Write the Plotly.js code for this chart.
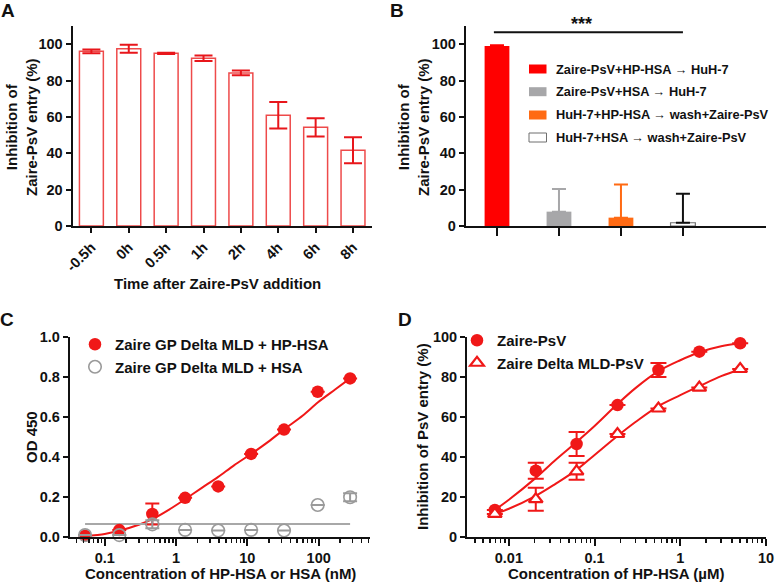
<!DOCTYPE html>
<html>
<head>
<meta charset="utf-8">
<script src="https://cdn.plot.ly/plotly-3.0.1.min.js"></script>
<style>html,body{margin:0;padding:0;background:#fff;}#chart{width:775px;height:582px;}</style>
</head>
<body>
<div id="chart"></div>
<script>
// ---------- Panel A ----------
const aCats = ['-0.5h', '0h', '0.5h', '1h', '2h', '4h', '6h', '8h'];
const aVals = [96.1, 97.6, 95.0, 92.3, 84.2, 60.9, 54.3, 41.7];
const aErr  = [1.0, 2.2, 0.3, 1.5, 1.3, 7.3, 5.0, 7.2];

// ---------- Panel B ----------
const bCats   = ['Zaire-PsV+HP-HSA \u2192 HuH-7', 'Zaire-PsV+HSA \u2192 HuH-7',
                 'HuH-7+HP-HSA \u2192 wash+Zaire-PsV', 'HuH-7+HSA \u2192 wash+Zaire-PsV'];
const bVals   = [99.0, 7.9, 4.6, 1.8];
const bErrUp  = [0.4, 12.5, 18.3, 16.0];

// ---------- Panel C ----------
const cX       = [0.053, 0.16, 0.465, 1.34, 3.9, 11.3, 32.7, 97, 276];
const cHP      = [0.005, 0.033, 0.114, 0.195, 0.252, 0.415, 0.537, 0.727, 0.794];
const cHPErr   = [0, 0, 0.053, 0, 0, 0, 0, 0, 0];
const cHSA     = [0.008, 0.008, 0.062, 0.034, 0.031, 0.034, 0.031, 0.159, 0.198];
const cHSAErr  = [0, 0, 0.02, 0, 0, 0, 0, 0, 0.02];
const cFitX    = [0.053, 0.1, 0.16, 0.3, 0.465, 0.8, 1.34, 2.3, 3.9, 6.5, 11.3, 20, 32.7, 60, 97, 170, 276];
const cFitY    = [0.003, 0.014, 0.03, 0.06, 0.088, 0.136, 0.188, 0.245, 0.30, 0.358, 0.415, 0.478, 0.538, 0.608, 0.673, 0.738, 0.794];
const cGrayFitX = [0.053, 276];
const cGrayFitY = [0.064, 0.064];
const cTickVals = [0.1, 1, 10, 100];
const cTickText = ['0.1', '1', '10', '100'];

// ---------- Panel D ----------
const dX       = [0.00686, 0.0206, 0.0617, 0.185, 0.556, 1.667, 5];
const dWT      = [13.4, 33.1, 46.5, 66.0, 83.6, 92.8, 97.0];
const dWTErr   = [0, 4.0, 6.0, 0, 3.5, 0, 0];
const dMLD     = [11.4, 18.8, 32.8, 51.5, 64.3, 74.8, 84.1];
const dMLDErr  = [0, 5.8, 4.3, 0, 0, 0, 0];
const dFitX    = [0.00686, 0.01, 0.0206, 0.035, 0.0617, 0.1, 0.185, 0.3, 0.556, 1, 1.667, 3, 5];
const dWTFitY  = [13.4, 18.5, 29.5, 38.5, 47.5, 55.5, 66.5, 74.5, 83, 88.5, 92.5, 95.5, 97];
const dMLDFitY = [11.4, 14, 20.5, 26.5, 33.5, 41, 50.5, 57.5, 65.5, 71, 75.5, 80.5, 84];
const dTickVals = [0.01, 0.1, 1, 10];
const dTickText = ['0.01', '0.1', '1', '10'];

const cNames = ['Zaire GP Delta MLD + HP-HSA', 'Zaire GP Delta MLD + HSA'];
const dNames = ['Zaire-PsV', 'Zaire Delta MLD-PsV'];

// ---------- styles ----------
const FONT = 'Liberation Sans, Arial, sans-serif';
const RED = '#f01818';
const GRAY = '#9a9a9a';
const bColors = ['#ff0000', '#a7a7a9', '#ff6a13', '#ffffff'];
const bLines  = ['#ff0000', '#a7a7a9', '#ff6a13', '#6f6f6f'];
const bErrCol = ['#ff0000', '#a7a7a9', '#ff6a13', '#111111'];

const W = 775, H = 582;
const px = v => v / W;
const py = v => (H - v) / H;

const traces = [];

// Panel A bars
traces.push({
  type: 'bar', x: aCats, y: aVals, xaxis: 'x', yaxis: 'y',
  width: 0.64, showlegend: false,
  marker: {color: '#ffffff', line: {color: '#ee4a4a', width: 1.5}},
  error_y: {type: 'data', array: aErr, visible: true, color: '#e8161b', thickness: 2, width: 9}
});

// Panel B bars (one trace per bar for individual error colours)
bCats.forEach((c, i) => {
  traces.push({
    type: 'bar', x: [c], y: [bVals[i]], xaxis: 'x2', yaxis: 'y2',
    width: 0.4, showlegend: false,
    marker: {color: bColors[i], line: {color: bLines[i], width: i === 3 ? 1.2 : 0}},
    error_y: {type: 'data', symmetric: false, array: [bErrUp[i]], arrayminus: [0],
              visible: true, color: bErrCol[i], thickness: 2, width: 7}
  });
});

// Panel C
traces.push({
  type: 'scatter', mode: 'lines', x: cFitX, y: cFitY, xaxis: 'x3', yaxis: 'y3',
  line: {color: RED, width: 2, shape: 'spline', smoothing: 0.8}, showlegend: false, hoverinfo: 'skip'
});
traces.push({
  type: 'scatter', mode: 'lines', x: cGrayFitX, y: cGrayFitY, xaxis: 'x3', yaxis: 'y3',
  line: {color: '#a8a8a8', width: 2}, showlegend: false, hoverinfo: 'skip'
});
traces.push({
  type: 'scatter', mode: 'markers', name: cNames[0], x: cX, y: cHP, xaxis: 'x3', yaxis: 'y3',
  legend: 'legend2', cliponaxis: false,
  marker: {symbol: 'circle', size: 12.5, color: RED},
  error_y: {type: 'data', array: cHPErr, visible: true, color: RED, thickness: 2, width: 7}
});
traces.push({
  type: 'scatter', mode: 'markers', name: cNames[1], x: cX, y: cHSA, xaxis: 'x3', yaxis: 'y3',
  legend: 'legend2', cliponaxis: false,
  marker: {symbol: 'circle-open', size: 12.5, color: GRAY, line: {color: GRAY, width: 1.6}},
  error_y: {type: 'data', array: cHSAErr, visible: true, color: GRAY, thickness: 2, width: 7}
});

// Panel D
traces.push({
  type: 'scatter', mode: 'lines', x: dFitX, y: dWTFitY, xaxis: 'x4', yaxis: 'y4',
  line: {color: RED, width: 2, shape: 'spline'}, showlegend: false, hoverinfo: 'skip'
});
traces.push({
  type: 'scatter', mode: 'lines', x: dFitX, y: dMLDFitY, xaxis: 'x4', yaxis: 'y4',
  line: {color: RED, width: 2, shape: 'spline'}, showlegend: false, hoverinfo: 'skip'
});
traces.push({
  type: 'scatter', mode: 'markers', name: dNames[0], x: dX, y: dWT, xaxis: 'x4', yaxis: 'y4',
  legend: 'legend3', cliponaxis: false,
  marker: {symbol: 'circle', size: 12.5, color: RED},
  error_y: {type: 'data', array: dWTErr, visible: true, color: RED, thickness: 2, width: 8}
});
traces.push({
  type: 'scatter', mode: 'markers', name: dNames[1], x: dX, y: dMLD, xaxis: 'x4', yaxis: 'y4',
  legend: 'legend3', cliponaxis: false,
  marker: {symbol: 'triangle-up', size: 12, color: '#ffffff', line: {color: RED, width: 2.2}},
  error_y: {type: 'data', array: dMLDErr, visible: true, color: RED, thickness: 2, width: 8}
});

const tickFont = {family: FONT, size: 14.5, color: '#111', weight: 'bold'};
const axBase = {
  showline: true, linecolor: '#111', linewidth: 2.2, ticks: 'outside', ticklen: 5,
  tickwidth: 2, tickcolor: '#111', showgrid: false, zeroline: false, tickfont: tickFont,
  fixedrange: true
};

const layout = {
  width: W, height: H, autosize: false,
  margin: {l: 0, r: 0, t: 0, b: 0},
  paper_bgcolor: '#fff', plot_bgcolor: 'rgba(0,0,0,0)',
  font: {family: FONT, color: '#111'},
  barmode: 'overlay',
  xaxis: Object.assign({}, axBase, {domain: [px(72.7), px(371.7)], anchor: 'y',
    type: 'category', range: [-0.5, 7.5], tickangle: -45}),
  yaxis: Object.assign({}, axBase, {domain: [py(226), py(26.1)], anchor: 'x',
    range: [0, 110], tickvals: [0, 20, 40, 60, 80, 100]}),
  xaxis2: Object.assign({}, axBase, {domain: [px(466), px(766)], anchor: 'y2',
    type: 'category', range: [-0.5, 4.34], showticklabels: false, ticklen: 8}),
  yaxis2: Object.assign({}, axBase, {domain: [py(226), py(26.1)], anchor: 'x2',
    range: [0, 110], tickvals: [0, 20, 40, 60, 80, 100]}),
  xaxis3: Object.assign({}, axBase, {domain: [px(70), px(370)], anchor: 'y3',
    type: 'log', range: [-1.487, 2.72], tickmode: 'array', tickvals: cTickVals, ticktext: cTickText,
    ticklen: 7, minor: {ticks: 'outside', ticklen: 4, tickwidth: 1.5, tickcolor: '#111', dtick: 'D1'}}),
  yaxis3: Object.assign({}, axBase, {domain: [py(536.7), py(337.3)], anchor: 'x3',
    range: [0, 1.0], tickvals: [0, 0.2, 0.4, 0.6, 0.8, 1.0], tickformat: '.1f'}),
  xaxis4: Object.assign({}, axBase, {domain: [px(467.3), px(766)], anchor: 'y4',
    type: 'log', range: [-2.485, 1.0], tickmode: 'array', tickvals: dTickVals, ticktext: dTickText,
    ticklen: 7, minor: {ticks: 'outside', ticklen: 4, tickwidth: 1.5, tickcolor: '#111', dtick: 'D1'}}),
  yaxis4: Object.assign({}, axBase, {domain: [py(536.7), py(337.3)], anchor: 'x4',
    range: [0, 100], tickvals: [0, 20, 40, 60, 80, 100]}),
  legend2: {x: px(75), y: py(328), xanchor: 'left', yanchor: 'top', bgcolor: 'rgba(0,0,0,0)',
    font: {family: FONT, size: 15, color: '#111', weight: 'bold'}, tracegroupgap: 0},
  legend3: {x: px(457), y: py(324), xanchor: 'left', yanchor: 'top', bgcolor: 'rgba(0,0,0,0)',
    font: {family: FONT, size: 15, color: '#111', weight: 'bold'}, tracegroupgap: 0},
  shapes: [],
  annotations: []
};

// Significance bracket in panel B
layout.shapes.push({type: 'line', xref: 'x2', yref: 'y2', x0: -0.05, x1: 3, y0: 106.6, y1: 106.6,
  line: {color: '#111', width: 2}});
layout.annotations.push({xref: 'paper', yref: 'paper', x: px(581), y: py(24), text: '***',
  xanchor: 'center', yanchor: 'middle',
  showarrow: false, font: {family: FONT, size: 18, color: '#111', weight: 'bold'}});

// Panel B legend (manual)
const bLegRows = [69, 91.7, 115, 137.5];
bCats.forEach((c, i) => {
  layout.shapes.push({type: 'rect', xref: 'paper', yref: 'paper',
    x0: px(529), x1: px(546.5), y0: py(bLegRows[i] + 4.5), y1: py(bLegRows[i] - 4.5),
    fillcolor: bColors[i], line: {color: bLines[i], width: i === 3 ? 1 : 0}});
  layout.annotations.push({xref: 'paper', yref: 'paper', x: px(554), y: py(bLegRows[i]),
    xanchor: 'left', yanchor: 'middle', text: c, showarrow: false,
    font: {family: FONT, size: 12.8, color: '#111', weight: 'bold'}});
});

// Panel letters
const letterFont = {family: FONT, size: 19, color: '#111', weight: 'bold'};
[['A', 8, 10], ['B', 397, 10], ['C', 7, 319], ['D', 405, 319]].forEach(l => {
  layout.annotations.push({xref: 'paper', yref: 'paper', x: px(l[1]), y: py(l[2]), text: l[0],
    xanchor: 'center', yanchor: 'middle', showarrow: false, font: letterFont});
});

// Axis titles
const titleFont = {family: FONT, size: 15, color: '#111', weight: 'bold'};
const titles = [
  ['Time after Zaire-PsV addition', 217, 283, 0],
  ['Inhibition of<br>Zaire-PsV entry (%)', 21, 127, -90],
  ['Inhibition of<br>Zaire-PsV entry (%)', 413, 127, -90],
  ['OD 450', 31, 437, -90],
  ['Concentration of HP-HSA or HSA (nM)', 220, 573, 0],
  ['Inhibition of PsV entry (%)', 422, 437, -90],
  ['Concentration of HP-HSA (\u00b5M)', 616, 573, 0]
];
titles.forEach(t => {
  layout.annotations.push({xref: 'paper', yref: 'paper', x: px(t[1]), y: py(t[2]), text: t[0],
    xanchor: 'center', yanchor: 'middle',
    textangle: t[3], showarrow: false, font: titleFont});
});

Plotly.newPlot('chart', traces, layout, {displayModeBar: false, staticPlot: true});
</script>
</body>
</html>
